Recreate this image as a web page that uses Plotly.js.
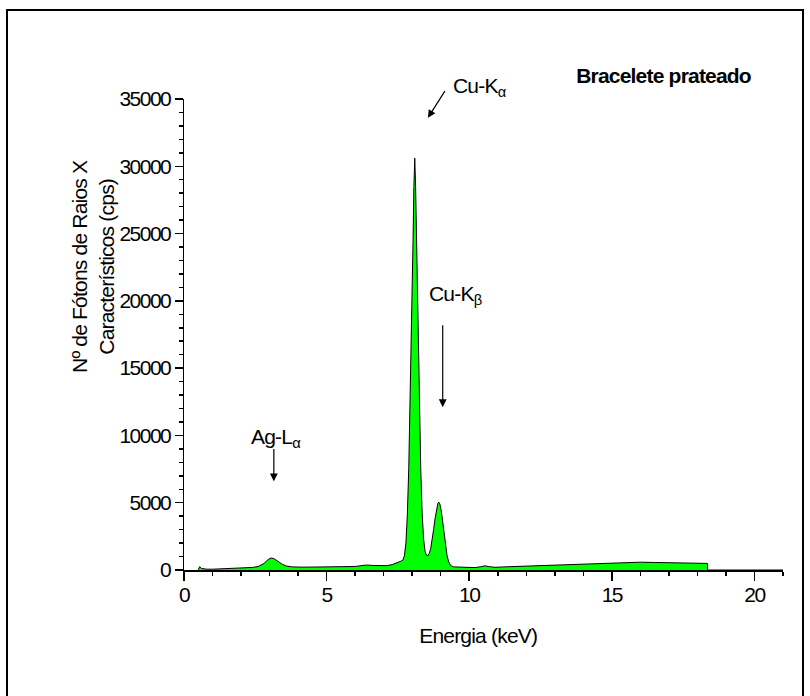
<!DOCTYPE html>
<html>
<head>
<meta charset="utf-8">
<script src="https://cdn.plot.ly/plotly-3.0.1.min.js"></script>
<style>
body{margin:0;padding:0;background:#fff;}
#chart{width:810px;height:696px;}
#chart .xtick text, #chart .ytick text { letter-spacing: -1.5px; }
#chart .annotation text { letter-spacing: -0.8px; }
</style>
</head>
<body>
<div id="chart"></div>
<script>
// Energy (keV)
const energy = [
  0.50, 0.55, 0.60, 0.80, 1.00, 1.50, 2.00, 2.40, 2.60, 2.80, 2.95, 3.05, 3.15, 3.30, 3.45, 3.60, 3.80,
  4.20, 4.60, 5.00, 5.50, 6.00, 6.20, 6.40, 6.60, 6.90, 7.10, 7.30, 7.50, 7.60,
  7.68, 7.73, 7.78, 7.83, 7.88, 7.93, 7.98, 8.03, 8.06, 8.09, 8.12, 8.15, 8.20, 8.25, 8.30, 8.35, 8.40, 8.45, 8.50, 8.55,
  8.60, 8.65, 8.70, 8.75, 8.80, 8.85, 8.90, 8.93, 8.97, 9.02, 9.07, 9.12, 9.17, 9.22, 9.28, 9.35, 9.45,
  9.60, 9.90, 10.20, 10.40, 10.55, 10.70, 10.90, 11.20, 11.60, 12.00, 12.50, 13.00, 13.50, 14.00, 14.50,
  15.00, 15.50, 16.00, 16.50, 17.00, 17.50, 18.00, 18.35, 18.36, 21.00
];
// Counts (cps)
const counts = [
  0, 250, 120, 60, 60, 90, 140, 190, 260, 480, 780, 890, 850, 650, 420, 290, 230,
  210, 210, 220, 230, 260, 320, 370, 340, 300, 320, 400, 550, 650,
  750, 1100, 2000, 4100, 7600, 12500, 18500, 24500, 28500, 30600, 28500, 24500, 18000, 12000, 7500, 4200, 2300, 1400, 1100, 1050,
  1250, 1600, 2200, 3000, 3800, 4500, 4950, 5050, 4900, 4400, 3600, 2700, 1800, 1100, 600, 330, 230,
  220, 190, 180, 240, 310, 250, 200, 230, 260, 290, 320, 350, 380, 420, 460,
  500, 550, 580, 560, 540, 520, 510, 490, 0, 0
];
const xTickVals = [0, 5, 10, 15, 20];
const yTickVals = [0, 5000, 10000, 15000, 20000, 25000, 30000, 35000];

const font = 'Arial, "Liberation Sans", sans-serif';
const fs = 21;

const trace = {
  x: energy, y: counts, type: 'scatter', mode: 'lines',
  fill: 'tozeroy', fillcolor: '#00ff00',
  line: {color: '#000000', width: 1},
  hoverinfo: 'skip'
};

const arrow = {showarrow: true, arrowhead: 2, arrowsize: 1.3, arrowwidth: 1.2, arrowcolor: '#000', text: ''};

const layout = {
  width: 810, height: 696,
  margin: {l: 184, r: 27, t: 99, b: 126},
  paper_bgcolor: '#ffffff', plot_bgcolor: '#ffffff',
  showlegend: false,
  font: {family: font, size: fs, color: '#000'},
  xaxis: {
    range: [0, 21], tickvals: xTickVals, ticktext: xTickVals.map(String),
    showgrid: false, zeroline: false, showline: true, linecolor: '#000', linewidth: 1.5,
    ticks: 'outside', ticklen: 9, tickwidth: 1.5, tickcolor: '#000', ticklabelstandoff: -4,
    tickfont: {family: font, size: fs, color: '#000'},
    minor: {dtick: 1, tick0: 0, ticks: 'outside', ticklen: 4, tickwidth: 1.5, tickcolor: '#000', showgrid: false}
  },
  yaxis: {
    range: [0, 35000], tickvals: yTickVals, ticktext: yTickVals.map(String),
    showgrid: false, zeroline: false, showline: true, linecolor: '#000', linewidth: 1.5,
    ticks: 'outside', ticklen: 8, tickwidth: 1.5, tickcolor: '#000', ticklabelstandoff: 0,
    tickfont: {family: font, size: fs, color: '#000'},
    minor: {dtick: 1000, tick0: 0, ticks: 'outside', ticklen: 4, tickwidth: 1.5, tickcolor: '#000', showgrid: false}
  },
  shapes: [
    {type: 'rect', xref: 'paper', yref: 'paper', x0: -0.2955, x1: 1.0334, y0: -0.40, y1: 1.189,
     line: {color: '#000', width: 2}, fillcolor: 'rgba(0,0,0,0)', layer: 'below'}
  ],
  annotations: [
    {text: 'Bracelete prateado', xref: 'paper', yref: 'paper', x: 0.961, y: 1.0509, xanchor: 'right', yanchor: 'middle',
     showarrow: false, font: {family: font, size: 21, color: '#000', weight: 'bold'}},
    {text: 'Cu-K<sub>α</sub>', xref: 'paper', yref: 'paper', x: 0.494, y: 1.0255, xanchor: 'center', yanchor: 'middle',
     showarrow: false, font: {family: font, size: fs, color: '#000'}},
    Object.assign({xref: 'x', yref: 'y', x: 8.55, y: 33600, axref: 'x', ayref: 'y', ax: 9.18, ay: 35700}, arrow),
    {text: 'Cu-K<sub>β</sub>', xref: 'x', yref: 'y', x: 9.5, y: 20400, xanchor: 'center', yanchor: 'middle', showarrow: false,
     font: {family: font, size: fs, color: '#000'}},
    Object.assign({xref: 'x', yref: 'y', x: 9.07, y: 12100, axref: 'x', ayref: 'y', ax: 9.07, ay: 18300}, arrow),
    {text: 'Ag-L<sub>α</sub>', xref: 'x', yref: 'y', x: 3.2, y: 9800, xanchor: 'center', yanchor: 'middle', showarrow: false,
     font: {family: font, size: fs, color: '#000'}},
    Object.assign({xref: 'x', yref: 'y', x: 3.15, y: 6600, axref: 'x', ayref: 'y', ax: 3.15, ay: 9100}, arrow),
    {text: 'Energia (keV)', xref: 'paper', yref: 'paper', x: 0.49, y: -0.139, xanchor: 'center', yanchor: 'middle', showarrow: false,
     font: {family: font, size: fs, color: '#000'}},
    {text: 'Nº de Fótons de Raios X<br>Característicos (cps)', xref: 'paper', yref: 'paper', x: -0.152, y: 0.645,
     xanchor: 'center', yanchor: 'middle', textangle: -90, showarrow: false,
     font: {family: font, size: 21, color: '#000'}}
  ]
};

Plotly.newPlot('chart', [trace], layout, {displayModeBar: false, staticPlot: true});
</script>
</body>
</html>
